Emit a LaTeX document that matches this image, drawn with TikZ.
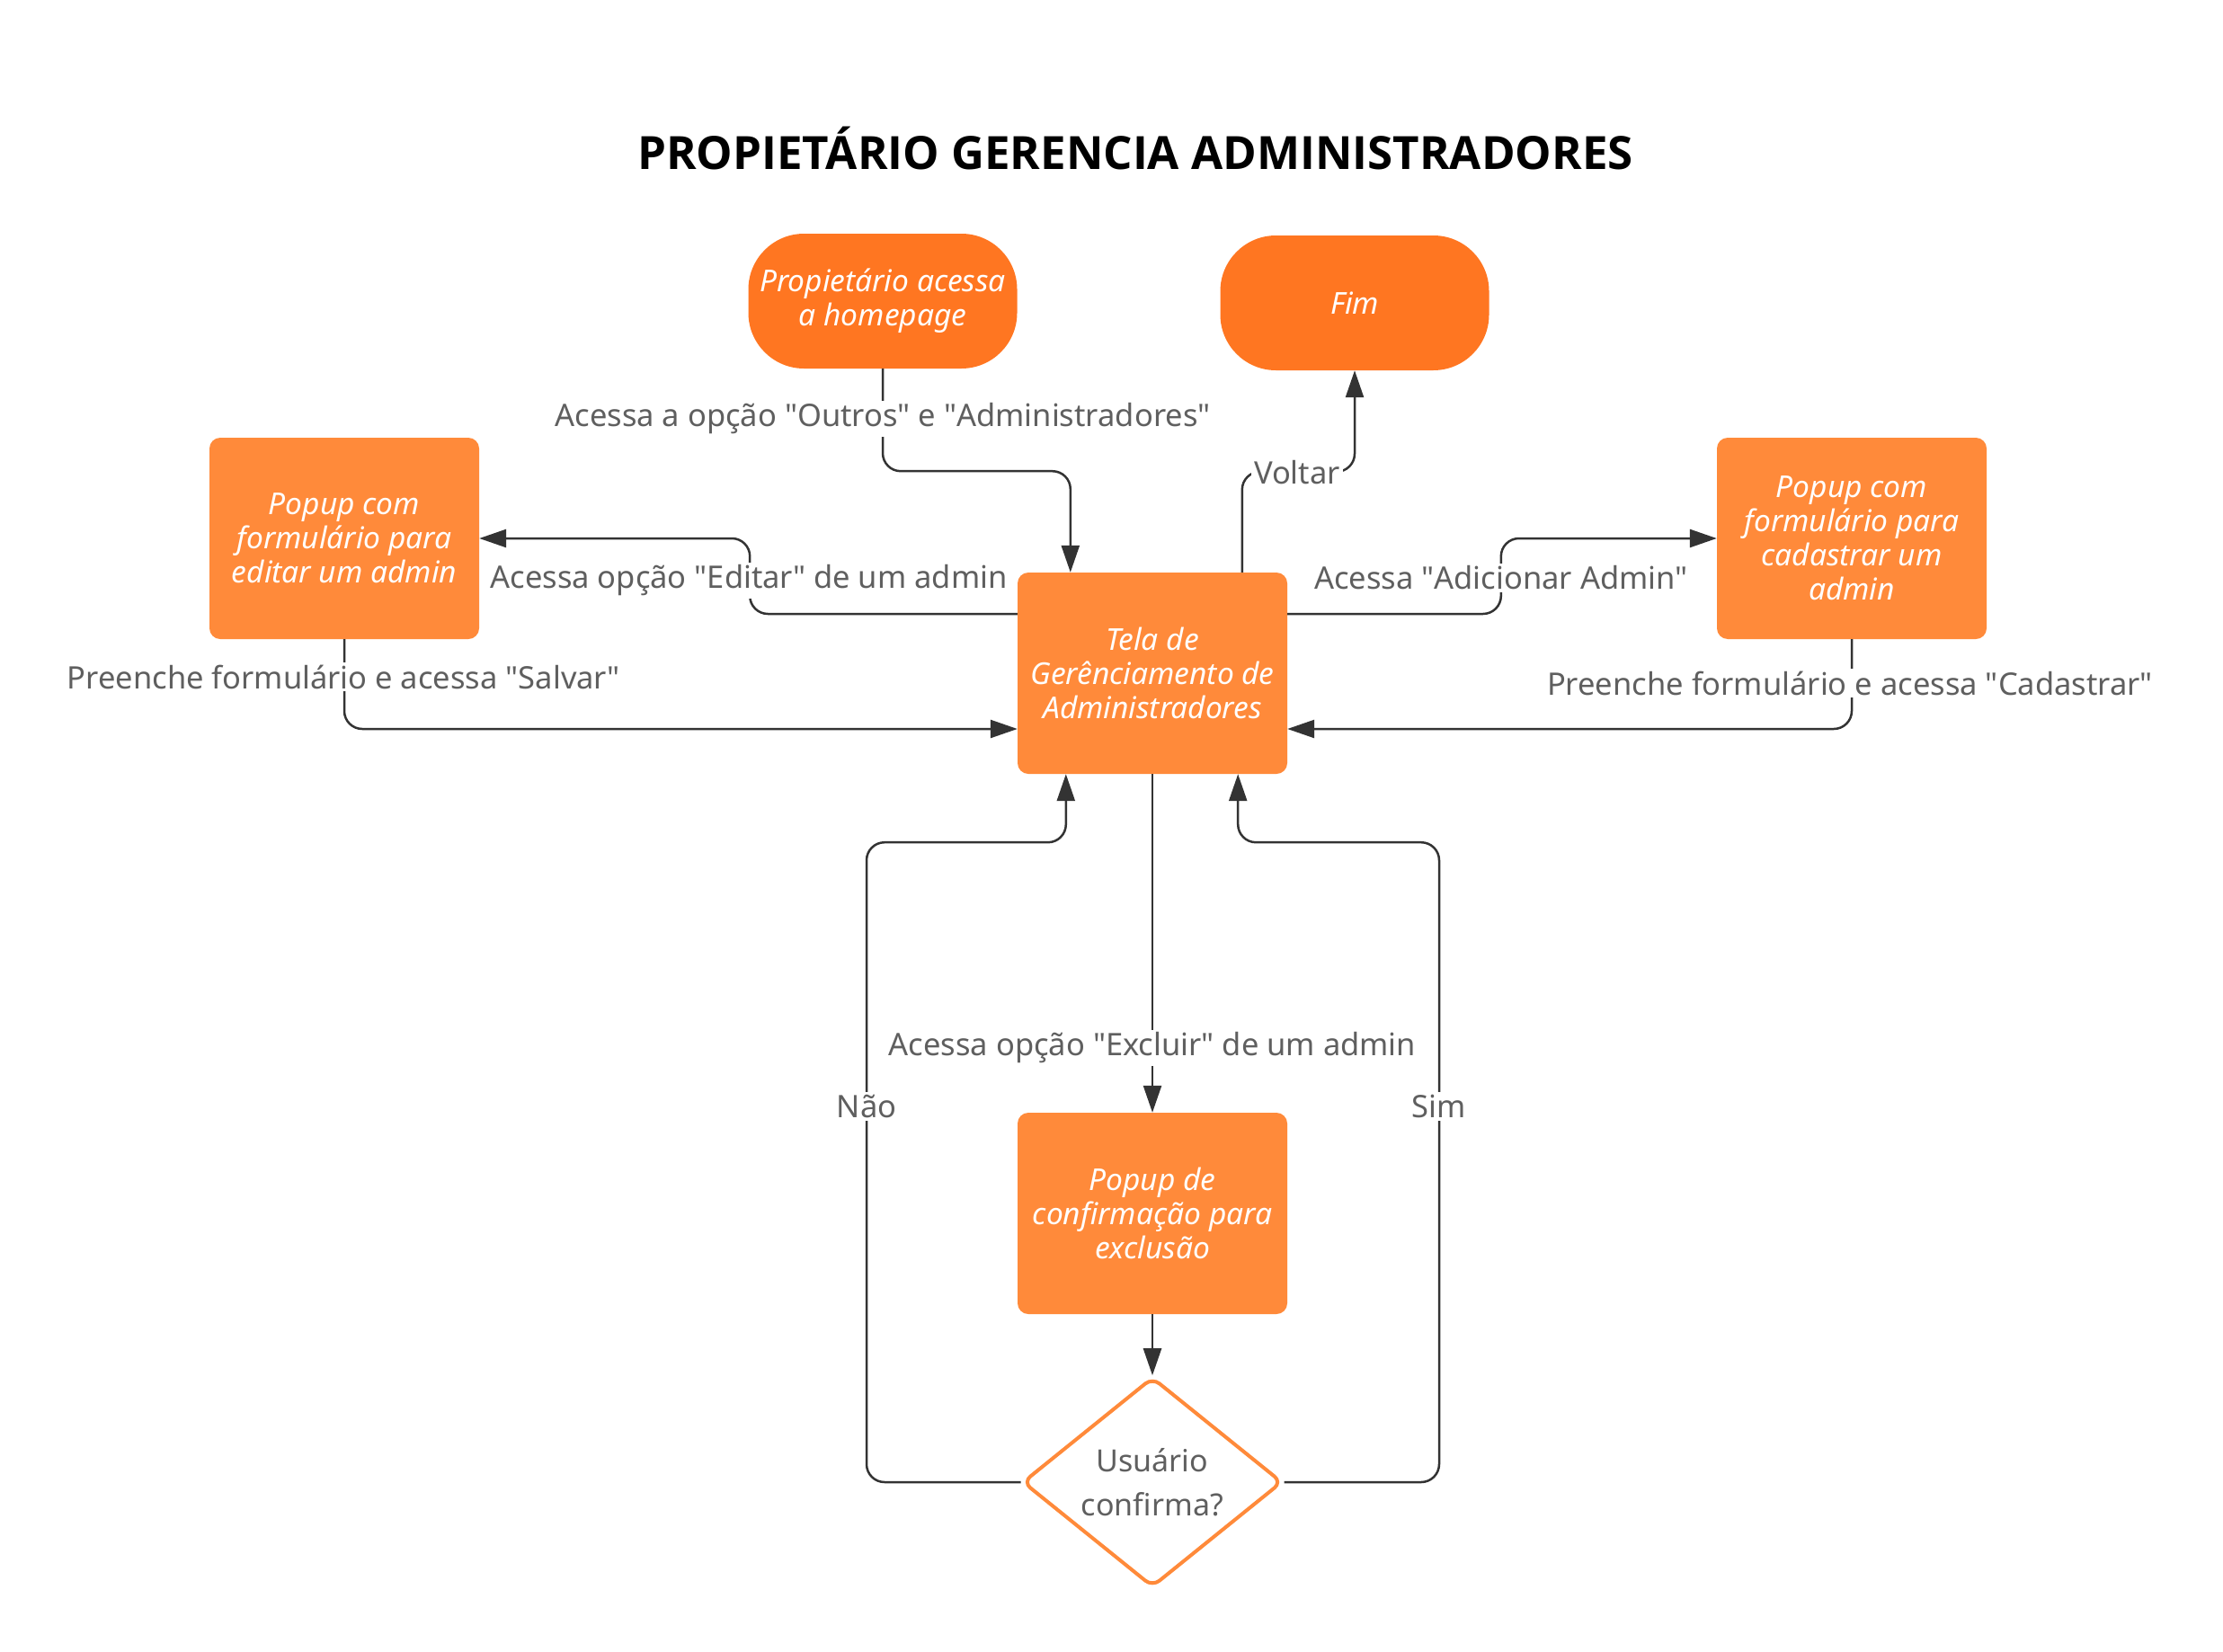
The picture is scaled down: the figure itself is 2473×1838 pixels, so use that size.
\documentclass[tikz,border=0pt]{standalone}
\usepackage{fontspec}
\setmainfont{Noto Sans}
\newfontfamily\titlefont{Open Sans}
\usetikzlibrary{arrows.meta,shapes.geometric,calc}
\definecolor{orA}{HTML}{FF7621}
\definecolor{orB}{HTML}{FF8A3A}
\definecolor{ln}{HTML}{333333}
\definecolor{tx}{HTML}{5F5F5F}
\newcommand\qq{\textquotedbl}
\begin{document}
\begin{tikzpicture}[x=1pt,y=-1pt,
  term/.style={fill=orA, rounded corners=62pt, minimum width=299pt, minimum height=150pt, text=white, font=\fontsize{33.5}{38}\selectfont\itshape, align=center, inner sep=0pt},
  box/.style={fill=orB, rounded corners=12pt, minimum width=300pt, minimum height=224pt, text=white, font=\fontsize{33.5}{38}\selectfont\itshape, align=center, inner sep=0pt},
  dec/.style={diamond, draw=orB, line width=4pt, fill=white, minimum width=289pt, minimum height=215pt, inner sep=0pt, rounded corners=10pt, text=tx, font=\fontsize{34}{49}\selectfont, align=center},
  conn/.style={draw=ln, line width=2.5pt, rounded corners=20pt},
  arr/.style={conn, -{Triangle[length=30pt,width=20pt]}},
  lbl/.style={fill=white, text=tx, font=\fontsize{34.5}{40}\selectfont, inner sep=3pt}]
\useasboundingbox[fill=white] (0,0) rectangle (2473,1838);

\node[font=\titlefont\fontsize{51}{56}\selectfont\bfseries] (title) at (1263,165) {PROPIETÁRIO GERENCIA ADMINISTRADORES};

\node[term] (start) at (982,335) {Propietário acessa\\a homepage};
\node[term] (fim) at (1507,337) {Fim};
\node[box] (edit) at (383,599) {Popup com\\formulário para\\editar um admin};
\node[box] (cad) at (2060,599) {Popup com\\formulário para\\cadastrar um\\admin};
\node[box] (tela) at (1282,749) {Tela de\\Gerênciamento de\\Administradores};
\node[box] (excl) at (1282,1350) {Popup de\\confirmação para\\exclusão};
\node[dec] (dec) at (1282,1649) {Usuário\\confirma?};

\draw[arr] (start.south) -- ++(0,114) -| ($(tela.north west)+(59,0)$);
\draw[arr] ($(tela.north west)+(250,0)$) -- ++(0,-112) -| (fim.south);
\draw[arr] ($(tela.west)+(0,-66)$) -| ($(edit.east)+(301,0)$) -- (edit.east);
\draw[arr] ($(tela.east)+(0,-66)$) -| ($(cad.west)+(-240,0)$) -- (cad.west);
\draw[arr] (edit.south) |- ($(tela.west)+(0,62)$);
\draw[arr] (cad.south) |- ($(tela.east)+(0,62)$);
\draw[arr] (tela.south) -- (excl.north);
\draw[arr] (excl.south) -- (dec.north);
\draw[arr] (dec.west) -| ($(tela.south)+(-318,76)$) -| ($(tela.south west)+(54,0)$);
\draw[arr] (dec.east) -| ($(tela.south)+(319,76)$) -| ($(tela.south east)+(-55,0)$);

\node[lbl] (l1) at (982,466) {Acessa a opção \qq Outros\qq{} e \qq Administradores\qq};
\node[lbl] (l2) at (1443,526) {Voltar};
\node[lbl] (l3) at (833,646) {Acessa opção \qq Editar\qq{} de um admin};
\node[lbl] (l4) at (1670,643) {Acessa \qq Adicionar Admin\qq};
\node[lbl] (l5) at (382,753) {Preenche formulário e acessa \qq Salvar\qq};
\node[lbl] (l6) at (2058,760) {Preenche formulário e acessa \qq Cadastrar\qq};
\node[lbl] (l7) at (1282,1166) {Acessa opção \qq Excluir\qq{} de um admin};
\node[lbl] (l8) at (964,1231) {Não};
\node[lbl] (l9) at (1601,1231) {Sim};
\end{tikzpicture}
\end{document}
